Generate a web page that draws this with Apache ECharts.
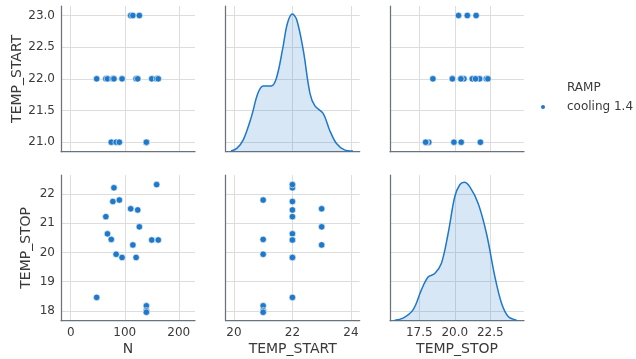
<!DOCTYPE html>
<html>
<head>
<meta charset="utf-8">
<script src="https://cdn.jsdelivr.net/npm/echarts@6/dist/echarts.min.js"></script>
<style>
  html, body { margin: 0; padding: 0; background: #fff; }
  #chart { width: 636px; height: 359px; }
</style>
</head>
<body>
<div id="chart"></div>
<script>
// raw observations (one entry per run)
const N = [48, 65, 68, 78, 80, 95, 121, 124, 150, 159, 162, 75, 84, 90, 140, 140, 140, 111, 115, 127];
const TEMP_START = [22, 22, 22, 22, 22, 22, 22, 22, 22, 22, 22, 21, 21, 21, 21, 21, 21, 23, 23, 23];
const TEMP_STOP = [18.46, 21.23, 20.64, 21.75, 22.22, 19.83, 19.83, 21.46, 20.43, 22.33, 20.43,
                   20.45, 19.94, 21.8, 18.17, 18.0, 17.95, 21.5, 20.26, 20.88];

// density curves
const START_KDE_X = [19.9, 20.1, 20.32, 20.6, 20.82, 21.0, 21.27, 21.45, 21.66, 21.83, 22.0, 22.15, 22.37, 22.6, 22.77, 23.05, 23.27, 23.5, 23.78, 24.07];
const START_KDE_Y = [0.003, 0.015, 0.053, 0.158, 0.263, 0.296, 0.296, 0.33, 0.458, 0.578, 0.62, 0.593, 0.458, 0.263, 0.206, 0.173, 0.098, 0.038, 0.008, 0.003];
const STOP_KDE_X = [15.77, 16.36, 17.06, 17.65, 18.12, 18.59, 19.06, 19.53, 20.0, 20.35, 20.66, 21.06, 21.64, 22.23, 22.82, 23.29, 23.76, 24.35];
const STOP_KDE_Y = [0.001, 0.005, 0.021, 0.06, 0.085, 0.092, 0.112, 0.17, 0.242, 0.265, 0.27, 0.261, 0.229, 0.17, 0.086, 0.034, 0.008, 0.001];

// tick labels
const N_TICKS = [0, 100, 200];
const START_TICKS_X = [20, 22, 24];
const STOP_TICKS_X = [17.5, 20, 22.5];
const START_TICKS_Y = [21, 21.5, 22, 22.5, 23];
const STOP_TICKS_Y = [18, 19, 20, 21, 22];

const SERIES_NAME = "cooling 1.4";
const LEGEND_TITLE = "RAMP";

const BLUE = "#1f78c8";
const GRID_LINE = "#dddddd";
const SPINE = "#6a727c";
const TEXT = "#3a3a3a";
const FONT = "DejaVu Sans";

const chart = echarts.init(document.getElementById("chart"));

const colLeft = [61, 225.7, 390];
const colWidth = 134;
const rowTop = [6, 175];
const rowHeight = 145.7;

const grids = [];
for (let r = 0; r < 2; r++) {
  for (let c = 0; c < 3; c++) {
    grids.push({ left: colLeft[c], top: rowTop[r], width: colWidth, height: rowHeight });
  }
}

const colRange = [[-18, 230], [19.72, 24.3], [15.44, 24.87]];
const colTicks = [N_TICKS, START_TICKS_X, STOP_TICKS_X];
const colFmt = [v => String(v), v => String(v), v => v.toFixed(1)];
const colName = ["N", "TEMP_START", "TEMP_STOP"];
const rowRange = [[20.85, 23.15], [17.66, 22.66]];
const rowTicks = [START_TICKS_Y, STOP_TICKS_Y];
const rowFmt = [v => v.toFixed(1), v => String(v)];
const rowName = ["TEMP_START", "TEMP_STOP"];
const rowNameGap = [36, 28];

const xAxes = [];
const yAxes = [];
for (let r = 0; r < 2; r++) {
  for (let c = 0; c < 3; c++) {
    const idx = r * 3 + c;
    const bottom = r === 1;
    xAxes.push({
      type: "value",
      gridIndex: idx,
      min: colRange[c][0],
      max: colRange[c][1],
      axisLine: { show: true, onZero: false, lineStyle: { color: SPINE, width: 1.25 } },
      axisTick: { show: false, customValues: colTicks[c] },
      splitLine: { show: true, lineStyle: { color: GRID_LINE, width: 1 } },
      axisLabel: {
        show: bottom,
        customValues: colTicks[c],
        formatter: colFmt[c],
        color: TEXT, fontSize: 12, fontFamily: FONT, margin: 6
      },
      name: bottom ? colName[c] : "",
      nameLocation: "middle",
      nameGap: 22,
      nameTextStyle: { color: TEXT, fontSize: 14, fontFamily: FONT }
    });
    yAxes.push({
      type: "value",
      gridIndex: idx,
      min: rowRange[r][0],
      max: rowRange[r][1],
      axisLine: { show: true, onZero: false, lineStyle: { color: SPINE, width: 1.25 } },
      axisTick: { show: false, customValues: rowTicks[r] },
      splitLine: { show: true, lineStyle: { color: GRID_LINE, width: 1 } },
      axisLabel: {
        show: c === 0,
        customValues: rowTicks[r],
        formatter: rowFmt[r],
        color: TEXT, fontSize: 12, fontFamily: FONT, margin: 6
      },
      name: c === 0 ? rowName[r] : "",
      nameLocation: "middle",
      nameGap: rowNameGap[r],
      nameRotate: 90,
      nameTextStyle: { color: TEXT, fontSize: 14, fontFamily: FONT }
    });
  }
}
// hidden density axes for the diagonal panels
yAxes.push({ type: "value", gridIndex: 1, min: 0, max: 0.656, show: false, splitLine: { show: false } });
yAxes.push({ type: "value", gridIndex: 5, min: 0, max: 0.284, show: false, splitLine: { show: false } });

const pairs = (xs, ys) => xs.map((x, i) => [x, ys[i]]);

function scatter(idx, xs, ys) {
  return {
    type: "scatter",
    name: SERIES_NAME,
    xAxisIndex: idx,
    yAxisIndex: idx,
    data: pairs(xs, ys),
    symbolSize: 6.5,
    itemStyle: { color: BLUE, borderColor: "#fff", borderWidth: 0.6, opacity: 1 },
    silent: true
  };
}

function kde(gridIdx, yIdx, xs, ys) {
  return {
    type: "line",
    name: "kde" + gridIdx,
    xAxisIndex: gridIdx,
    yAxisIndex: yIdx,
    data: pairs(xs, ys),
    smooth: 0.35,
    showSymbol: false,
    lineStyle: { color: BLUE, width: 1.5 },
    areaStyle: { color: "rgba(31,120,200,0.25)" },
    silent: true
  };
}

chart.setOption({
  backgroundColor: "#fff",
  animation: false,
  textStyle: { fontFamily: FONT },
  grid: grids,
  xAxis: xAxes,
  yAxis: yAxes,
  legend: {
    data: [SERIES_NAME],
    left: 534,
    top: 96,
    icon: "circle",
    itemWidth: 38,
    itemHeight: 6,
    itemGap: 5,
    textStyle: { color: TEXT, fontSize: 12, fontFamily: FONT }
  },
  graphic: [{
    type: "text",
    left: 567,
    top: 82,
    style: { text: LEGEND_TITLE, fill: TEXT, font: "12px 'DejaVu Sans'" }
  }],
  series: [
    scatter(0, N, TEMP_START),
    kde(1, 6, START_KDE_X, START_KDE_Y),
    scatter(2, TEMP_STOP, TEMP_START),
    scatter(3, N, TEMP_STOP),
    scatter(4, TEMP_START, TEMP_STOP),
    kde(5, 7, STOP_KDE_X, STOP_KDE_Y)
  ]
});

window.addEventListener("resize", () => chart.resize());
</script>
</body>
</html>
